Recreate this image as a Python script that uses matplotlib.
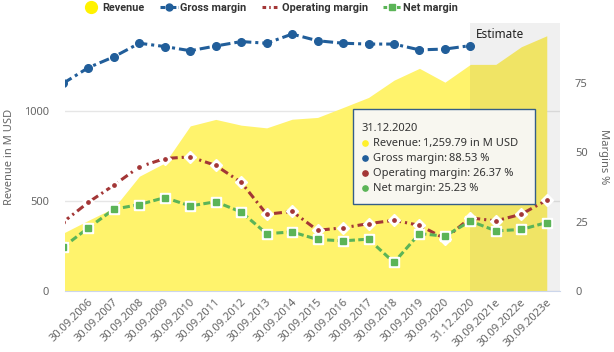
import numpy as np
import matplotlib.pyplot as plt
import matplotlib.transforms as mtransforms
from matplotlib.lines import Line2D
from matplotlib.patches import Rectangle
from matplotlib import font_manager

periods = ['30.09.2005', '30.09.2006', '30.09.2007', '30.09.2008', '30.09.2009', '30.09.2010',
           '30.09.2011', '30.09.2012', '30.09.2013', '30.09.2014', '30.09.2015', '30.09.2016',
           '30.09.2017', '30.09.2018', '30.09.2019', '30.09.2020', '31.12.2020',
           '30.09.2021e', '30.09.2022e', '30.09.2023e']
revenue = [321, 393, 462, 638, 712, 918, 954, 922, 907, 955, 965, 1020, 1076, 1172, 1238, 1161,
           1259.79, 1260, 1358, 1419]
gross_margin = [74.9, 80.6, 84.5, 89.4, 88.2, 86.7, 88.4, 90.0, 89.4, 92.7, 90.3, 89.4, 89.1, 89.1,
                87.0, 87.3, 88.53, np.nan, np.nan, np.nan]
operating_margin = [24.8, 32.0, 38.2, 44.8, 47.8, 48.4, 45.3, 39.2, 27.7, 28.7, 21.9, 22.8, 24.3,
                    25.5, 23.7, 18.9, 26.37, 25.3, 27.7, 32.8]
net_margin = [15.8, 22.8, 29.5, 31.2, 33.7, 30.7, 32.2, 28.5, 20.7, 21.3, 18.6, 18.1, 18.7, 10.3,
              20.7, 19.8, 25.23, 21.7, 22.2, 24.7]

YELLOW = '#fff36c'
BLUE = '#215e9a'
RED = '#a33636'
GREEN = '#5bb457'
GREY = '#666666'

names = {f.name for f in font_manager.fontManager.ttflist}
legend_font = 'Liberation Sans Narrow' if 'Liberation Sans Narrow' in names else 'Roboto'
legend_size = 8.5 if legend_font == 'Liberation Sans Narrow' else 7.8
plt.rcParams['font.family'] = ['Noto Sans', 'DejaVu Sans']

x = np.arange(-1, len(periods) - 1)
est_start = periods.index('31.12.2020') - 1

fig = plt.figure(figsize=(6.14, 3.52), dpi=100)
ax = fig.add_axes([65 / 614, 1 - 291 / 352, 495 / 614, 268 / 352])
ax2 = ax.twinx()

# revenue area + estimate band
ax.fill_between(x, 0, revenue, color=YELLOW, lw=0, zorder=1)
ax.axvspan(est_start, 18.52, color='black', alpha=0.06, lw=0, zorder=1.5)
ax.set_xlim(-0.92, 18.52)
ax.set_ylim(0, 1490)
ax.set_yticks([0, 500, 1000])
ax.yaxis.grid(True, color='#e6e6e6', lw=1, zorder=0.5)
ax.set_axisbelow(True)
ax.set_xticks(x[1:])
ax.set_xticklabels(periods[1:], rotation=45, ha='right', rotation_mode='anchor', va='center')
ax.tick_params(axis='x', length=0, pad=7, labelsize=8, labelcolor=GREY)
ax.tick_params(axis='y', length=0, pad=11.5, labelsize=8, labelcolor=GREY)
offset = mtransforms.ScaledTranslation(0.03, 0, fig.dpi_scale_trans)
for lab in ax.get_xticklabels():
    lab.set_transform(lab.get_transform() + offset)
for s in ['left', 'right', 'top']:
    ax.spines[s].set_visible(False)
    ax2.spines[s].set_visible(False)
ax.spines['bottom'].set_color('#ccd6eb')
ax2.spines['bottom'].set_visible(False)

# margins
ax2.set_ylim(0, 96.7)
ax2.set_yticks([0, 25, 50, 75])
ax2.tick_params(axis='y', length=0, pad=10.8, labelsize=8, labelcolor=GREY)

ax2.plot(x, gross_margin, color=BLUE, lw=2.2, ls=(0, (3.3, 1.3, 1, 1.3)),
         marker='o', ms=5.5, mfc=BLUE, mec=BLUE, zorder=3)
ax2.plot(x, operating_margin, color=RED, lw=2.2, ls=(0, (2.6, 1.3, 0.7, 1.3)),
         marker='D', ms=6.5, mfc='white', mec='white', zorder=4)
ax2.plot(x, operating_margin, ls='none', marker='o', ms=2.4, color=RED, zorder=4.1)
ax2.plot(x, net_margin, color=GREEN, lw=2.2, ls=(0, (2.3, 1.1)),
         marker='s', ms=7, mfc='white', mec='white', zorder=5)
ax2.plot(x, net_margin, ls='none', marker='s', ms=3.8, color=GREEN, zorder=5.1)

ax.annotate('Estimate', xy=(est_start, 1), xycoords=('data', 'axes fraction'), xytext=(4.3, -8.6),
            textcoords='offset points', va='center', ha='left', fontsize=8.5, color='#222222')

fig.text(10 / 614, 1 - 157 / 352, 'Revenue in M USD', rotation=90, ha='center', va='center',
         fontsize=8, color=GREY)
fig.text(603 / 614, 1 - 157 / 352, 'Margins %', rotation=270, ha='center', va='center',
         fontsize=8, color=GREY)

# legend
handles = [
    Line2D([], [], ls='none', marker='o', ms=8.5, color='#fff200'),
    Line2D([], [], color=BLUE, lw=2.2, ls=(0, (1.5, 0.6, 1, 0.6)), marker='o', ms=5),
    Line2D([], [], color=RED, lw=2.2, ls=(0, (1.2, 1, 0.5, 1))),
    Line2D([], [], color=GREEN, lw=2.2, ls=(0, (1.2, 1)), marker='s', ms=4),
]
leg = fig.legend(handles, ['Revenue', 'Gross margin', 'Operating margin', 'Net margin'],
                 loc='upper left', bbox_to_anchor=(82 / 614, 1 - 3 / 352), ncol=4, frameon=False,
                 handlelength=13 / legend_size, handletextpad=0.2, columnspacing=11 / legend_size,
                 borderpad=0, borderaxespad=0,
                 prop={'family': legend_font, 'weight': 'bold', 'size': legend_size})
for t in leg.get_texts():
    t.set_color('#333333')

# tooltip
fig.add_artist(Rectangle((353 / 614, 1 - 204 / 352), 182 / 614, 95 / 352, transform=fig.transFigure,
                         facecolor='#f8f8f8', edgecolor='#2a5686', lw=1, alpha=0.95, zorder=10))
fig.text(361.5 / 614, 1 - 128.3 / 352, '31.12.2020', fontsize=8, color='#333333',
         va='center', zorder=11)
rows = [('Revenue: ', '1,259.79 in M USD', '#fff02a'),
        ('Gross margin: ', '88.53 %', BLUE),
        ('Operating margin: ', '26.37 %', RED),
        ('Net margin: ', '25.23 %', GREEN)]
renderer = fig.canvas.get_renderer()
for i, (name, val, col) in enumerate(rows):
    yy = 1 - (143.3 + 15 * i) / 352
    fig.add_artist(Line2D([365 / 614], [yy], transform=fig.transFigure, marker='o', ms=3.8,
                          color=col, ls='none', zorder=11))
    t = fig.text(372.5 / 614, yy, name, fontsize=8, color='#333333', va='center', zorder=11)
    x1 = t.get_window_extent(renderer).x1
    fig.text(x1 / fig.bbox.width, yy, val, fontsize=8, color='#333333', va='center',
             fontweight='bold', zorder=11)

plt.savefig('out.png', dpi=100)
